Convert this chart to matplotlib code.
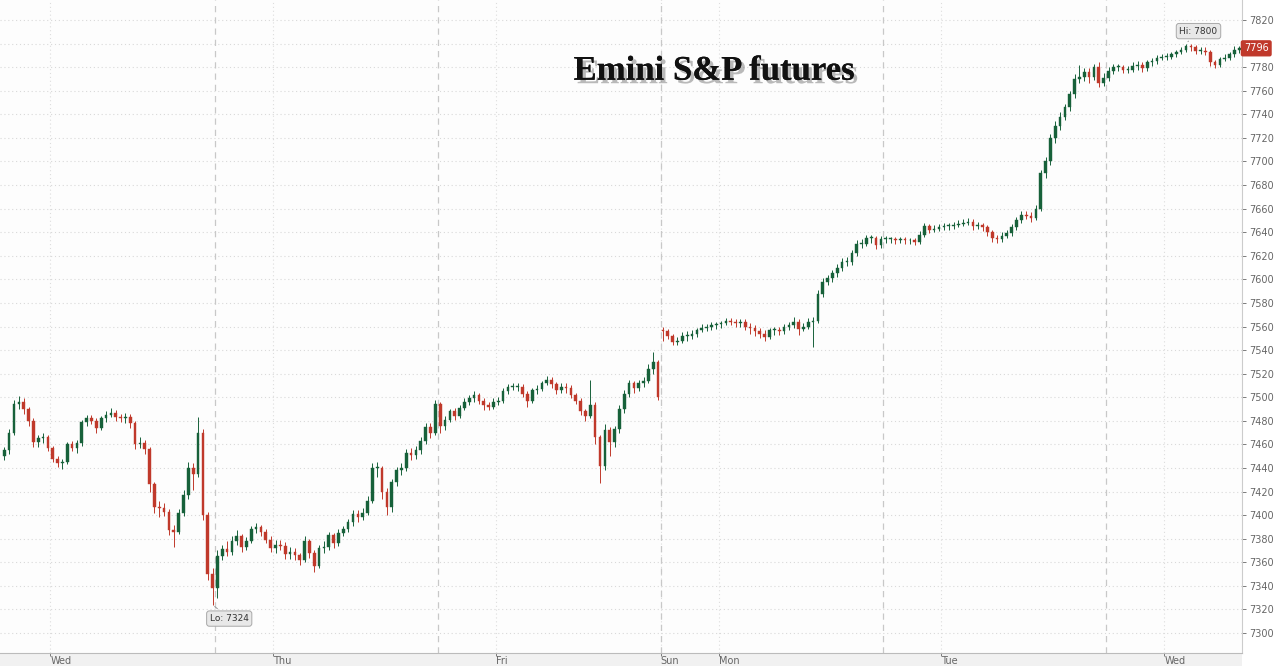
import matplotlib
matplotlib.use("Agg")
import matplotlib.pyplot as plt
import matplotlib.patheffects as pe
from matplotlib.patches import Rectangle
import numpy as np

# 30-minute bars (closes / highs / lows)
closes = [
    7455, 7470, 7494, 7496, 7490, 7480, 7462, 7465, 7466, 7457,
    7448, 7444, 7445, 7460, 7457, 7461, 7479, 7482, 7480, 7474,
    7482, 7485, 7487, 7483, 7482, 7483, 7478, 7460, 7461, 7456,
    7426, 7407, 7406, 7403, 7387, 7386, 7402, 7417, 7440, 7435,
    7470, 7400, 7350, 7338, 7365, 7371, 7369, 7378, 7382, 7373,
    7378, 7388, 7390, 7386, 7379, 7372, 7375, 7374, 7367, 7369,
    7366, 7362, 7378, 7368, 7357, 7372, 7373, 7383, 7376, 7385,
    7388, 7394, 7401, 7398, 7402, 7412, 7440, 7440, 7420, 7407,
    7428, 7438, 7440, 7453, 7451, 7455, 7463, 7475, 7470, 7494,
    7476, 7481, 7488, 7484, 7491, 7496, 7499, 7502, 7497, 7493,
    7492, 7496, 7497, 7505, 7509, 7509, 7509, 7503, 7497, 7506,
    7507, 7512, 7515, 7511, 7506, 7509, 7508, 7502, 7497, 7488,
    7484, 7493, 7466, 7442, 7472, 7462, 7473, 7490, 7503, 7512,
    7508, 7512, 7514, 7524, 7530, 7500, 7556, 7552, 7547, 7548,
    7552, 7552, 7554, 7557, 7559, 7560, 7561, 7562, 7563, 7565,
    7564, 7563, 7564, 7560, 7559, 7556, 7554, 7551, 7557, 7557,
    7556, 7560, 7561, 7564, 7558, 7560, 7564, 7565, 7588, 7598,
    7601, 7605, 7610, 7615, 7615, 7622, 7630, 7630, 7635, 7635,
    7629, 7634, 7634, 7634, 7633, 7634, 7633, 7633, 7632, 7638,
    7645, 7642, 7643, 7644, 7645, 7645, 7646, 7647, 7648, 7649,
    7645, 7646, 7644, 7640, 7635, 7634, 7637, 7639, 7644, 7650,
    7655, 7654, 7652, 7660, 7690, 7700, 7720, 7730, 7738, 7746,
    7757, 7770, 7772, 7776, 7772, 7780, 7767, 7771, 7777, 7780,
    7780, 7778, 7778, 7781, 7782, 7779, 7784, 7785, 7788, 7789,
    7789, 7791, 7793, 7795, 7798, 7797, 7794, 7794, 7793, 7784,
    7782, 7787, 7788, 7791, 7795, 7796,
]
highs = [
    7458, 7473, 7498, 7501, 7499, 7492, 7482, 7468, 7470, 7468,
    7459, 7450, 7448, 7462, 7463, 7464, 7481, 7485, 7485, 7482,
    7484, 7488, 7491, 7489, 7486, 7487, 7486, 7480, 7466, 7464,
    7458, 7428, 7412, 7410, 7405, 7392, 7405, 7421, 7445, 7444,
    7483, 7473, 7403, 7355, 7370, 7375, 7378, 7382, 7387, 7384,
    7381, 7391, 7393, 7392, 7388, 7382, 7379, 7379, 7377, 7373,
    7372, 7368, 7382, 7380, 7370, 7375, 7378, 7386, 7385, 7388,
    7391, 7397, 7404, 7404, 7406, 7416, 7444, 7445, 7442, 7423,
    7431, 7441, 7444, 7456, 7457, 7459, 7466, 7478, 7478, 7498,
    7496, 7484, 7490, 7491, 7493, 7499, 7502, 7505, 7504, 7499,
    7496, 7499, 7500, 7508, 7511, 7512, 7512, 7511, 7505, 7508,
    7510, 7514, 7518, 7517, 7513, 7512, 7512, 7510, 7504, 7499,
    7490, 7515, 7496, 7468, 7477, 7475, 7476, 7493, 7506, 7515,
    7514, 7515, 7517, 7528, 7538, 7532, 7560, 7558, 7554, 7551,
    7555, 7556, 7557, 7559, 7562, 7562, 7564, 7564, 7565, 7567,
    7567, 7566, 7566, 7566, 7563, 7561, 7559, 7557, 7559, 7560,
    7560, 7562, 7564, 7568, 7566, 7563, 7567, 7568, 7591, 7601,
    7604, 7608, 7613, 7618, 7619, 7625, 7633, 7634, 7638, 7638,
    7637, 7637, 7637, 7636, 7636, 7636, 7636, 7635, 7635, 7641,
    7648, 7647, 7646, 7647, 7648, 7648, 7649, 7650, 7651, 7652,
    7651, 7649, 7648, 7646, 7642, 7638, 7640, 7642, 7647, 7653,
    7658, 7658, 7657, 7663, 7693, 7704, 7723, 7734, 7742, 7749,
    7760, 7774, 7782, 7779, 7779, 7783, 7784, 7775, 7780, 7783,
    7783, 7782, 7781, 7784, 7785, 7784, 7786, 7788, 7790, 7791,
    7792, 7793, 7795, 7797, 7800, 7800, 7799, 7797, 7797, 7795,
    7786, 7789, 7791, 7793, 7798, 7798,
]
lows = [
    7447, 7452, 7468, 7490, 7486, 7476, 7458, 7458, 7461, 7454,
    7445, 7441, 7439, 7443, 7454, 7453, 7459, 7476, 7477, 7470,
    7472, 7479, 7483, 7480, 7479, 7478, 7474, 7456, 7457, 7452,
    7420, 7402, 7398, 7399, 7383, 7373, 7384, 7399, 7414, 7421,
    7432, 7396, 7345, 7324, 7330, 7362, 7365, 7366, 7375, 7369,
    7370, 7376, 7385, 7382, 7376, 7369, 7368, 7370, 7363, 7363,
    7362, 7358, 7360, 7364, 7352, 7355, 7368, 7370, 7372, 7374,
    7382, 7386, 7391, 7394, 7396, 7400, 7410, 7432, 7414, 7400,
    7403, 7425, 7434, 7437, 7447, 7448, 7452, 7460, 7465, 7468,
    7470, 7472, 7479, 7481, 7482, 7489, 7493, 7496, 7494, 7489,
    7489, 7490, 7493, 7495, 7503, 7506, 7505, 7500, 7492, 7495,
    7503, 7505, 7510, 7508, 7503, 7504, 7504, 7499, 7494, 7485,
    7480, 7482, 7460, 7427, 7438, 7450, 7458, 7470, 7487, 7500,
    7504, 7505, 7509, 7512, 7520, 7498, 7548, 7549, 7544, 7544,
    7546, 7548, 7549, 7551, 7555, 7556, 7557, 7558, 7559, 7561,
    7561, 7560, 7560, 7557, 7554, 7552, 7550, 7548, 7549, 7553,
    7553, 7554, 7557, 7559, 7553, 7556, 7558, 7543, 7563, 7585,
    7595, 7598, 7602, 7607, 7611, 7612, 7620, 7627, 7628, 7631,
    7626, 7627, 7631, 7631, 7630, 7631, 7630, 7630, 7629, 7630,
    7636, 7639, 7640, 7641, 7642, 7642, 7643, 7644, 7645, 7646,
    7642, 7643, 7641, 7637, 7632, 7631, 7632, 7635, 7637, 7642,
    7648, 7651, 7649, 7650, 7658, 7686, 7697, 7716, 7727, 7735,
    7743, 7754, 7767, 7768, 7767, 7769, 7763, 7764, 7768, 7774,
    7777, 7775, 7775, 7776, 7778, 7776, 7777, 7781, 7783, 7786,
    7786, 7787, 7789, 7791, 7793, 7794, 7791, 7791, 7790, 7781,
    7779, 7780, 7785, 7786, 7789, 7792,
]
# session opens (bar index -> open); other bars open at the previous close
session_opens = {0: 7450, 136: 7557}

session_breaks = [44, 90, 136, 182, 228]
day_ticks = [10, 56, 102, 136, 148, 194, 240]
day_labels = ["Wed", "Thu", "Fri", "Sun", "Mon", "Tue", "Wed"]
price_ticks = list(range(7300, 7821, 20))

UP = "#17613a"
DOWN = "#c0392b"

c = np.array(closes, dtype=float)
h = np.array(highs, dtype=float)
l = np.array(lows, dtype=float)
o = np.r_[c[0], c[:-1]]
for k, v in session_opens.items():
    o[k] = v
n = len(c)
x = np.arange(n) + 0.5
cols = np.where(c >= o, UP, DOWN)

fig = plt.figure(figsize=(12.8, 6.66), dpi=100)
fig.patch.set_facecolor("white")
# light strip behind the day labels (drawn below the axes)
fig.patches.append(Rectangle((0, 0), 0.9703, 0.0195, transform=fig.transFigure,
                             facecolor="#f1f1f1", edgecolor="none", zorder=-1))
ax = fig.add_axes([0, 0.0195, 0.9703, 0.9805])
ax.set_facecolor("#fdfdfd")

# grid
for yv in price_ticks:
    ax.axhline(yv, color="#d9d9d9", lw=0.8, ls=(0, (1, 2.5)), zorder=0)
for xv in day_ticks:
    ax.axvline(xv, color="#dddddd", lw=0.8, ls=(0, (1, 2.5)), zorder=0)
for xv in session_breaks:
    ax.axvline(xv, color="#c8c8c8", lw=0.9, ls=(0, (5, 4)), zorder=0)

# candles
ax.vlines(x, l, h, colors=cols, lw=0.7, zorder=2)
body = np.maximum(np.abs(c - o), 0.7)
ax.bar(x, body, bottom=np.minimum(o, c), width=0.55, color=cols,
       edgecolor=cols, linewidth=0.3, zorder=3)

ax.set_xlim(-0.39, 256.06)
ax.set_ylim(7283, 7837)

ax.yaxis.tick_right()
ax.set_yticks(price_ticks)
# the 7800 label sits under the last-price tag
ax.set_yticklabels(["" if v == 7800 else str(v) for v in price_ticks])
ax.tick_params(axis="y", labelsize=7, colors="#666666", length=3, width=0.6, pad=2)
ax.set_xticks(day_ticks)
ax.set_xticklabels(day_labels)
for t in ax.get_xticklabels():
    t.set_horizontalalignment("left")
ax.tick_params(axis="x", labelsize=7, colors="#666666", length=2, width=0.6, pad=0.3)
for s in ["top", "left"]:
    ax.spines[s].set_visible(False)
ax.spines["right"].set_color("#cccccc")
ax.spines["bottom"].set_color("#bbbbbb")

# hi / lo call-outs
box = dict(boxstyle="round,pad=0.35,rounding_size=0.3", fc="#e8e8e8", ec="#a8a8a8", lw=0.7)
ilo = int(np.argmin(l))
ihi = int(np.argmax(h))
ax.annotate(f"Lo: {l[ilo]:.0f}", xy=(x[ilo], l[ilo]), xytext=(12, -10),
            textcoords="offset points", ha="center", va="center", fontsize=6.5,
            color="#333333", bbox=box,
            arrowprops=dict(arrowstyle="-", color="#999999", lw=0.7))
ax.annotate(f"Hi: {h[ihi]:.0f}", xy=(x[ihi], h[ihi]), xytext=(9, 9),
            textcoords="offset points", ha="center", va="center", fontsize=6.5,
            color="#333333", bbox=box,
            arrowprops=dict(arrowstyle="-", color="#999999", lw=0.7))

# last price tag
ax.text(1.0015, c[-1], f"{c[-1]:.0f}", transform=ax.get_yaxis_transform(),
        ha="left", va="center", fontsize=7, color="white", clip_on=False, zorder=10,
        bbox=dict(boxstyle="round,pad=0.25,rounding_size=0.15", fc="#c0392b", ec="#c0392b"))

fig.text(0.558, 0.893, "Emini S&P futures", fontsize=25, fontweight="bold",
         family="Liberation Serif", ha="center", va="center", color="#111111",
         path_effects=[pe.withSimplePatchShadow(offset=(2.5, -2.5), shadow_rgbFace="#555555", alpha=0.4),
                       pe.Normal()])

fig.savefig("out.png", dpi=100)
